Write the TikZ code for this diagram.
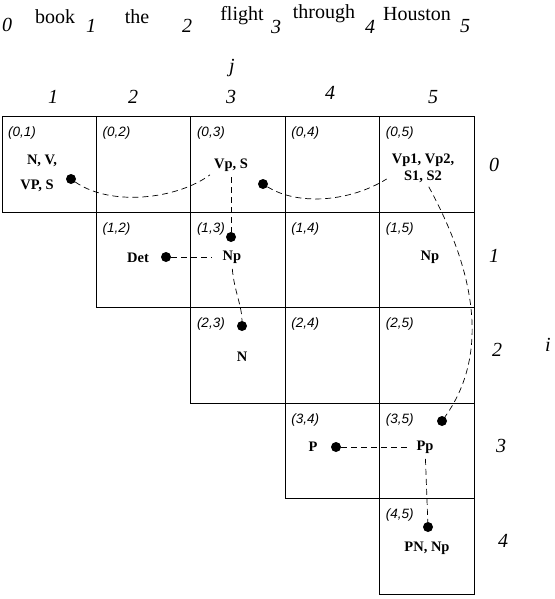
\documentclass[tikz,border=0pt]{standalone}
\usepackage{fontspec}
\setmainfont{Liberation Serif}
\newfontfamily\tagfont{Liberation Sans}
\usetikzlibrary{calc}
\tikzset{
  wordlab/.style={inner sep=0pt, font=\fontsize{20}{24}\selectfont},
  idxlab/.style={inner sep=0pt, font=\fontsize{20}{24}\selectfont\itshape},
  celltxt/.style={inner sep=1.5pt, align=center, font=\fontsize{14.5}{17}\selectfont\bfseries},
  celltag/.style={inner sep=0pt, anchor=north west, font=\tagfont\itshape\fontsize{13.5}{16}\selectfont},
  chartdot/.style={circle, fill=black, inner sep=0pt, minimum size=10pt},
  backlink/.style={dash pattern=on 6pt off 4pt, line width=0.7pt},
  cellline/.style={line width=1pt},
}

\begin{document}
\begin{tikzpicture}[x=1pt,y=-1pt]
\useasboundingbox (0,0) rectangle (554,599);
% sentence with word positions
\foreach \w/\x/\y [count=\k] in {book/55/17, the/137/17, flight/242/16, through/324/14, Houston/417/14}
  \node[wordlab] (w\k) at (\x,\y) {\w};
\foreach \x/\y [count=\k from 0] in {7/25, 91/26, 187/26, 276/27, 370/27, 465/26}
  \node[idxlab] (p\k) at (\x,\y) {\k};
% column and row indices
\node[idxlab] (jlab) at (232,68) {j};
\foreach \x/\y [count=\k] in {53/97, 133/97, 231/97, 330/93, 433/97}
  \node[idxlab] (col\k) at (\x,\y) {\k};
\foreach \x/\y [count=\k from 0] in {494/165, 494/256, 497/350, 501/446, 503/541}
  \node[idxlab] (row\k) at (\x,\y) {\k};
\node[idxlab] (ilab) at (548,345) {i};
% chart cells
\foreach \i in {0,...,4}{
  \pgfmathtruncatemacro\jfirst{\i+1}
  \foreach \j in {\jfirst,...,5}{
    \draw[cellline] ({2+(\j-1)*94.4},{117+\i*95.4}) rectangle ++(94.4,95.4);
    \node[celltag] (t\i\j) at ({8+(\j-1)*94.4},{127+\i*95.4}) {(\i,\j)};
  }
}
% cell contents
\node[celltxt] (c01a) at (42,161) {N, V,};
\node[celltxt] (c01b) at (37,186) {VP, S};
\node[chartdot] (d01) at (71,179) {};
\node[celltxt] (c03) at (231,165) {Vp, S};
\node[chartdot] (d03) at (263,184) {};
\node[celltxt] (c05) at (423,168) {Vp1, Vp2,\\S1, S2};
\node[celltxt] (c12) at (138,258) {Det};
\node[chartdot] (d12) at (166,257) {};
\node[chartdot] (d13) at (231,237) {};
\node[celltxt] (c13) at (232,257) {Np};
\node[celltxt] (c15) at (430,257) {Np};
\node[chartdot] (d23) at (242,326) {};
\node[celltxt] (c23) at (242,357) {N};
\node[celltxt] (c34) at (313,447) {P};
\node[chartdot] (d34) at (336,447) {};
\node[celltxt] (c35) at (425,447) {Pp};
\node[chartdot] (d35) at (442,421) {};
\node[chartdot] (d45) at (428,527) {};
\node[celltxt] (c45) at (427,548) {PN, Np};
% back pointers
\draw[backlink, shorten >=3pt] (d01) .. controls +(40,28) and +(-35,26) .. (c03.south west);
\draw[backlink, shorten >=4pt] (d03) .. controls +(35,22) and +(-40,25) .. (c05.195);
\draw[backlink, shorten <=4pt] (c03) -- (d13);
\draw[backlink, shorten >=9pt] (d12) -- (c13);
\draw[backlink, shorten <=4pt] (c13.south) .. controls +(2,25) and +(0,-20) .. (d23);
\draw[backlink, shorten <=3pt] (c05.285) .. controls +(32,59) and +(58,-81) .. (d35);
\draw[backlink, shorten >=6pt] (d34) -- (c35);
\draw[backlink, shorten <=4pt] (c35) -- (d45);
\end{tikzpicture}
\end{document}
